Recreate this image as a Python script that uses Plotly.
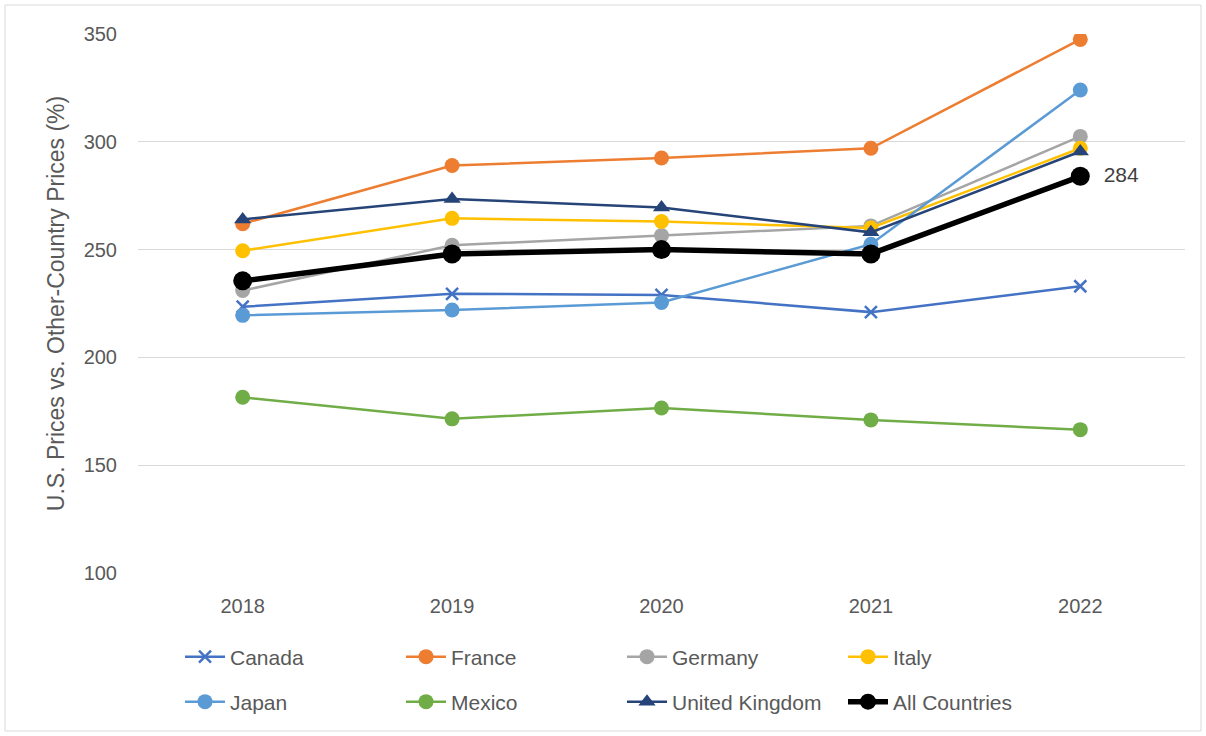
import plotly.graph_objects as go

years = ["2018", "2019", "2020", "2021", "2022"]
canada = [223.5, 229.5, 229, 221, 233]
france = [262, 289, 292.5, 297, 347.5]
germany = [231, 252, 256.5, 261, 302.5]
italy = [249.5, 264.5, 263, 260, 297]
japan = [219.5, 222, 225.5, 252.5, 324]
mexico = [181.5, 171.5, 176.5, 171, 166.5]
uk = [264, 273.5, 269.5, 258, 295.5]
all_countries = [235.5, 248, 250, 248, 284]

series = [
    ("Canada", canada, "#4472C4", "x-thin", 12, 2.5, "legend"),
    ("France", france, "#ED7D31", "circle", 15, 2.5, "legend"),
    ("Germany", germany, "#A5A5A5", "circle", 15, 2.5, "legend"),
    ("Italy", italy, "#FFC000", "circle", 15, 2.5, "legend"),
    ("Japan", japan, "#5B9BD5", "circle", 15, 2.5, "legend2"),
    ("Mexico", mexico, "#70AD47", "circle", 15, 2.5, "legend2"),
    ("United Kingdom", uk, "#264478", "triangle-up", 15, 2.5, "legend2"),
    ("All Countries", all_countries, "#000000", "circle", 19, 5.5, "legend2"),
]

FONT = "Liberation Sans"
fig = go.Figure()
for name, vals, color, sym, size, lw, leg in series:
    marker = dict(symbol=sym, size=size, color=color)
    if sym == "x-thin":
        marker["line"] = dict(color=color, width=2.5)
    fig.add_trace(go.Scatter(
        x=years, y=vals, name=name, mode="lines+markers",
        line=dict(color=color, width=lw), marker=marker, legend=leg,
    ))

# data label on the last "All Countries" point
fig.add_trace(go.Scatter(
    x=[years[-1]], y=[all_countries[-1]], mode="text",
    text=["    " + str(int(all_countries[-1]))], textposition="middle right",
    textfont=dict(family=FONT, size=21, color="#404040"),
    showlegend=False, hoverinfo="skip",
))

W, H = 1206, 736
L, R, T, B = 138, 21, 34, 163
pw, ph = W - L - R, H - T - B

def px(x):
    return (x - L) / pw

def py(y):
    return (H - B - y) / ph

fig.add_shape(type="rect", xref="paper", yref="paper",
              x0=px(5), x1=px(1201), y0=py(731), y1=py(5),
              line=dict(color="#D9D9D9", width=1), fillcolor="rgba(0,0,0,0)", layer="below")

legend_common = dict(orientation="h", xanchor="left", yanchor="middle",
                     entrywidth=166, entrywidthmode="pixels",
                     font=dict(family=FONT, size=21, color="#595959"),
                     bgcolor="rgba(0,0,0,0)", itemwidth=40)

fig.update_layout(
    width=W, height=H,
    margin=dict(l=L, r=R, t=T, b=B),
    paper_bgcolor="white", plot_bgcolor="white",
    font=dict(family=FONT, color="#595959"),
    showlegend=True,
    legend=dict(x=px(180), y=py(657), **legend_common),
    legend2=dict(x=px(180), y=py(702), **legend_common),
    xaxis=dict(type="category", range=[-0.5, 4.5], showgrid=False, showline=False,
               zeroline=False, ticks="", ticklabelstandoff=19,
               tickfont=dict(family=FONT, size=20, color="#595959")),
    yaxis=dict(range=[100, 350], dtick=50, showgrid=True, gridcolor="#D9D9D9",
               gridwidth=1, zeroline=False, showline=False, ticks="",
               ticklabelstandoff=20,
               tickfont=dict(family=FONT, size=20, color="#595959"),
               title=dict(text="U.S. Prices vs. Other-Country Prices (%)", standoff=12,
                          font=dict(family=FONT, size=23, color="#595959"))),
)

fig.write_html("out.html", config={"displayModeBar": False},
               post_script=["document.body.style.margin='0';document.body.style.overflow='hidden';"])
